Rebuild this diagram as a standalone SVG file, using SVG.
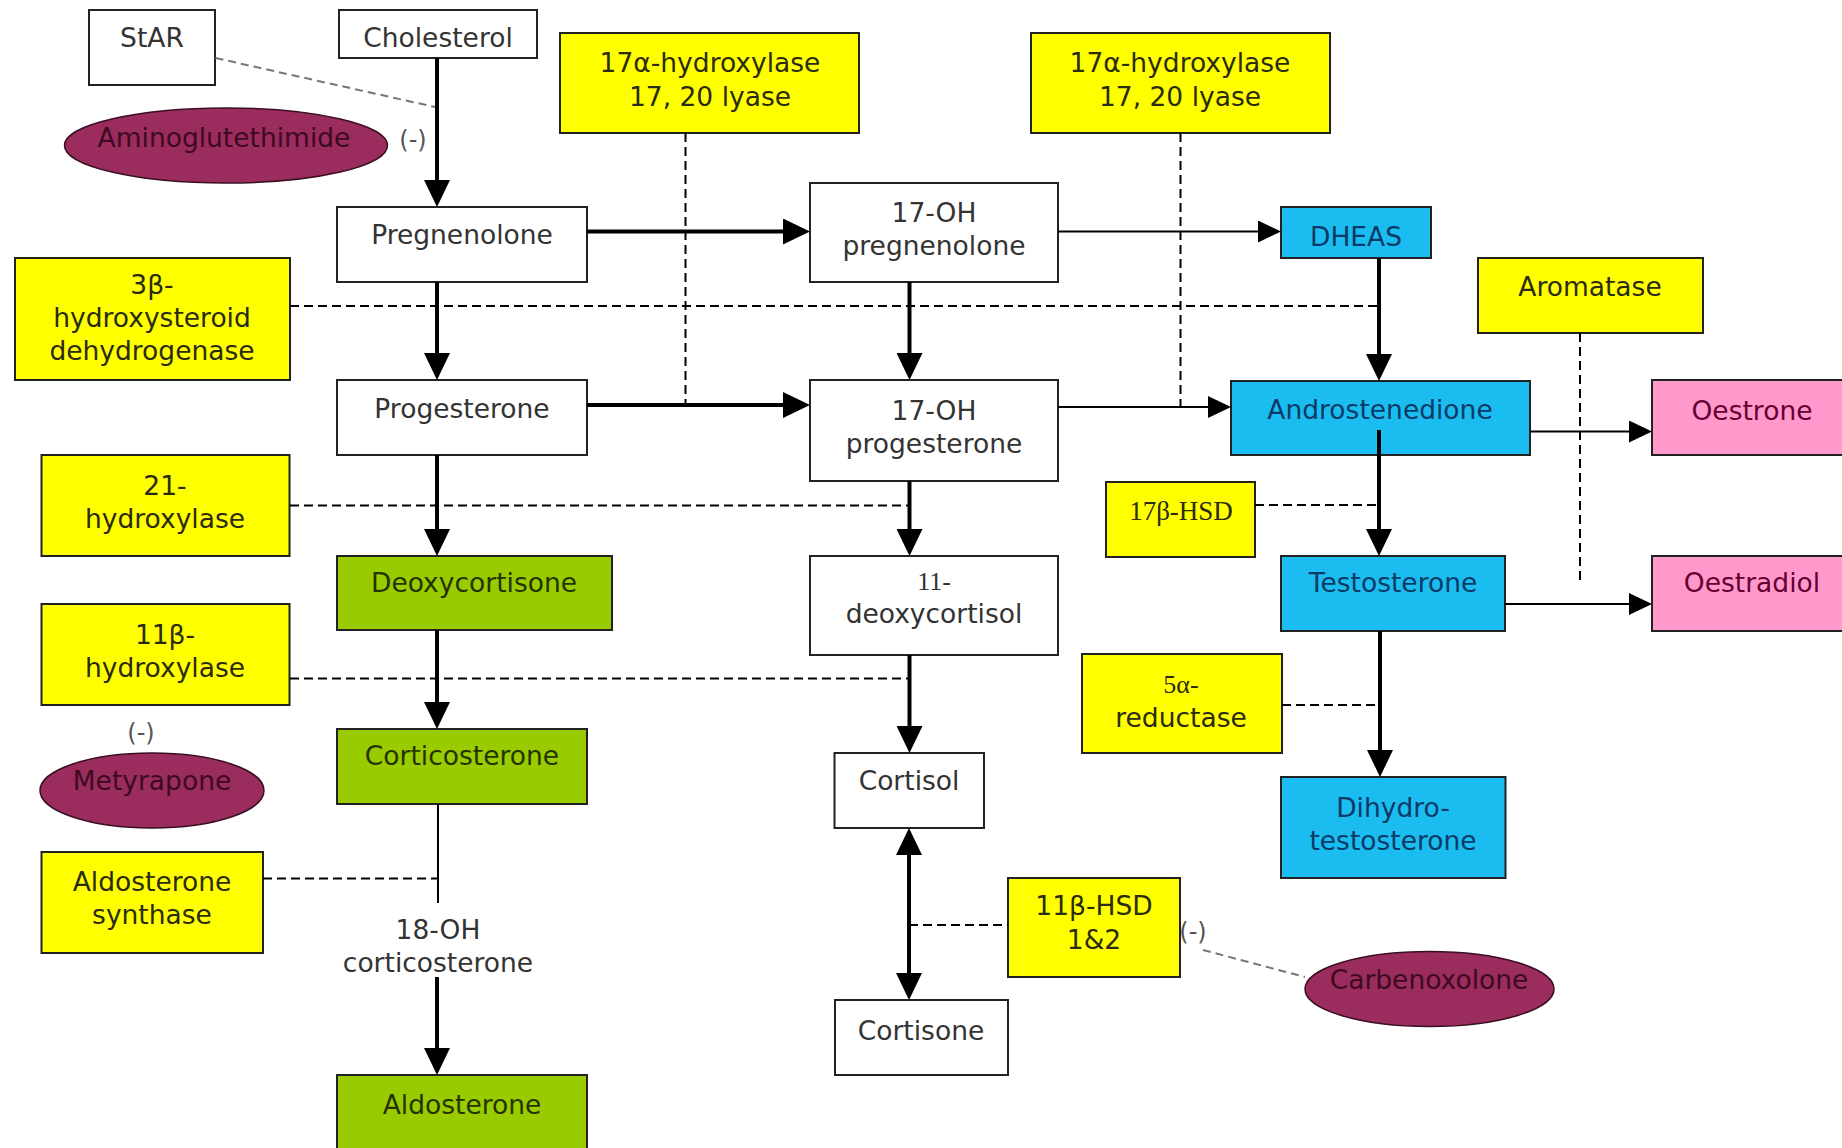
<svg xmlns="http://www.w3.org/2000/svg" width="1842" height="1148" viewBox="0 0 1842 1148">
<style>
.box{stroke:#222;stroke-width:2}
.w{fill:#fff}.y{fill:#ffff00}.g{fill:#99cc00}.b{fill:#1bbdf0}.p{fill:#ff99cc}
.el{fill:#9b2c5e;stroke:#3a0f22;stroke-width:1.5}
text{font-family:"DejaVu Sans",Verdana,sans-serif;font-size:26.5px;text-anchor:middle}
.tw{fill:#333}.ty{fill:#2b2b10}.tg{fill:#263300}.tb{fill:#0a3a66}.tp{fill:#660033}.te{fill:#3d0a20}
.serif{font-family:"Liberation Serif","Times New Roman",serif}
.neg{fill:#555;font-size:24px}
.thick{stroke:#000;stroke-width:4;fill:none;marker-end:url(#ah)}
.thin{stroke:#000;stroke-width:2;fill:none;marker-end:url(#ahs)}
.dash{stroke:#000;stroke-width:2;fill:none;stroke-dasharray:9 5}
.gdash{stroke:#777;stroke-width:2;fill:none;stroke-dasharray:8 5}
</style>
<defs>
<marker id="ah" markerUnits="userSpaceOnUse" markerWidth="28" markerHeight="26" refX="22" refY="13" orient="auto-start-reverse"><path d="M0,0 L27,13 L0,26 z" fill="#000"/></marker>
<marker id="ahs" markerUnits="userSpaceOnUse" markerWidth="24" markerHeight="22" refX="19" refY="11" orient="auto"><path d="M0,0 L23,11 L0,22 z" fill="#000"/></marker>
</defs>
<rect width="1842" height="1148" fill="#fff"/>

<g id="star"><rect class="box w" x="89" y="10" width="126" height="75"/><text class="tw" x="152" y="47">StAR</text></g>
<g id="cholesterol"><rect class="box w" x="339" y="10" width="198" height="48"/><text class="tw" x="438" y="47">Cholesterol</text></g>
<g id="aminoglutethimide"><ellipse class="el" cx="226" cy="145.5" rx="161.5" ry="37.5"/><text class="te" x="224" y="147">Aminoglutethimide</text></g>
<g id="neg1"><text class="neg" x="413" y="148">(-)</text></g>
<g id="enz17a1"><rect class="box y" x="560" y="33" width="299" height="100"/><text class="ty" x="710" y="72">17α-hydroxylase</text><text class="ty" x="710" y="106">17, 20 lyase</text></g>
<g id="enz17a2"><rect class="box y" x="1031" y="33" width="299" height="100"/><text class="ty" x="1180" y="72">17α-hydroxylase</text><text class="ty" x="1180" y="106">17, 20 lyase</text></g>
<g id="pregnenolone"><rect class="box w" x="337" y="207" width="250" height="75"/><text class="tw" x="462" y="244">Pregnenolone</text></g>
<g id="oh17preg"><rect class="box w" x="810" y="183" width="248" height="99"/><text class="tw" x="934" y="222">17-OH</text><text class="tw" x="934" y="255">pregnenolone</text></g>
<g id="dheas"><rect class="box b" x="1281" y="207" width="150" height="51"/><text class="tb" x="1356" y="246">DHEAS</text></g>
<g id="enz3b"><rect class="box y" x="15" y="258" width="275" height="122"/><text class="ty" x="152" y="294">3β-</text><text class="ty" x="152" y="327">hydroxysteroid</text><text class="ty" x="152" y="360">dehydrogenase</text></g>
<g id="aromatase"><rect class="box y" x="1478" y="258" width="225" height="75"/><text class="ty" x="1590" y="296">Aromatase</text></g>
<g id="progesterone"><rect class="box w" x="337" y="380" width="250" height="75"/><text class="tw" x="462" y="418">Progesterone</text></g>
<g id="oh17prog"><rect class="box w" x="810" y="380" width="248" height="101"/><text class="tw" x="934" y="420">17-OH</text><text class="tw" x="934" y="453">progesterone</text></g>
<g id="androstenedione"><rect class="box b" x="1231" y="381" width="299" height="74"/><text class="tb" x="1380" y="419">Androstenedione</text></g>
<g id="oestrone"><rect class="box p" x="1652" y="380" width="200" height="75"/><text class="tp" x="1752" y="420">Oestrone</text></g>
<g id="enz21"><rect class="box y" x="41.5" y="455" width="248" height="101"/><text class="ty" x="165" y="495">21-</text><text class="ty" x="165" y="528">hydroxylase</text></g>
<g id="enz17bhsd"><rect class="box y" x="1106" y="482" width="149" height="75"/><text class="ty serif" x="1181" y="520" style="font-size:27px">17β-HSD</text></g>
<g id="deoxycortisone"><rect class="box g" x="337" y="556" width="275" height="74"/><text class="tg" x="474" y="592">Deoxycortisone</text></g>
<g id="deoxycortisol"><rect class="box w" x="810" y="556" width="248" height="99"/><text class="tw serif" x="934" y="590" style="font-size:26px">11-</text><text class="tw" x="934" y="623">deoxycortisol</text></g>
<g id="testosterone"><rect class="box b" x="1281" y="556" width="224" height="75"/><text class="tb" x="1393" y="592">Testosterone</text></g>
<g id="oestradiol"><rect class="box p" x="1652" y="556" width="200" height="75"/><text class="tp" x="1752" y="592">Oestradiol</text></g>
<g id="enz11b"><rect class="box y" x="41.5" y="604" width="248" height="101"/><text class="ty" x="165" y="644">11β-</text><text class="ty" x="165" y="677">hydroxylase</text></g>
<g id="enz5a"><rect class="box y" x="1082" y="654" width="200" height="99"/><text class="ty serif" x="1181" y="693" style="font-size:26px">5α-</text><text class="ty" x="1181" y="727">reductase</text></g>
<g id="neg2"><text class="neg" x="141" y="741">(-)</text></g>
<g id="metyrapone"><ellipse class="el" cx="152" cy="790.5" rx="112" ry="37.5"/><text class="te" x="152" y="790">Metyrapone</text></g>
<g id="corticosterone"><rect class="box g" x="337" y="729" width="250" height="75"/><text class="tg" x="462" y="765">Corticosterone</text></g>
<g id="cortisol"><rect class="box w" x="834.5" y="753" width="149.5" height="75"/><text class="tw" x="909" y="790">Cortisol</text></g>
<g id="dht"><rect class="box b" x="1281" y="777" width="224.5" height="101"/><text class="tb" x="1393" y="817">Dihydro-</text><text class="tb" x="1393" y="850">testosterone</text></g>
<g id="aldosynthase"><rect class="box y" x="41.5" y="852" width="221.5" height="101"/><text class="ty" x="152" y="891">Aldosterone</text><text class="ty" x="152" y="924">synthase</text></g>
<g id="oh18cort"><text class="tw" x="438" y="939">18-OH</text><text class="tw" x="438" y="972">corticosterone</text></g>
<g id="enz11bhsd"><rect class="box y" x="1008" y="878" width="172" height="99"/><text class="ty" x="1094" y="915">11β-HSD</text><text class="ty" x="1094" y="949">1&amp;2</text></g>
<g id="neg3"><text class="neg" x="1193" y="940">(-)</text></g>
<g id="carbenoxolone"><ellipse class="el" cx="1429.5" cy="989" rx="124.5" ry="37.5"/><text class="te" x="1429" y="989">Carbenoxolone</text></g>
<g id="cortisone"><rect class="box w" x="835" y="1000" width="173" height="75"/><text class="tw" x="921" y="1040">Cortisone</text></g>
<g id="aldosterone"><rect class="box g" x="337" y="1075" width="250" height="90"/><text class="tg" x="462" y="1114">Aldosterone</text></g>

<g id="connectors">
<path class="gdash" d="M215.5,58 L435,107"/>
<path class="dash" d="M685.5,133 V405"/>
<path class="dash" d="M1180.5,133 V407"/>
<path class="dash" d="M290,306 H1379"/>
<path class="dash" d="M290,505.5 H909"/>
<path class="dash" d="M290,678.5 H909"/>
<path class="dash" d="M263,878.5 H438"/>
<path class="dash" d="M1255,505 H1379"/>
<path class="dash" d="M1282,705 H1379"/>
<path class="dash" d="M1580,333 V582"/>
<path class="dash" d="M909,925 H1008"/>
<path class="gdash" d="M1203,950 L1305,977"/>
<path class="thick" d="M437,58 V202"/>
<path class="thick" d="M587,231.5 H805"/>
<path class="thin" d="M1058,231.5 H1277"/>
<path class="thick" d="M437,282 V375"/>
<path class="thick" d="M909.5,282 V375"/>
<path class="thick" d="M1379,258 V376"/>
<path class="thick" d="M587,405 H805"/>
<path class="thin" d="M1058,407 H1227"/>
<path class="thin" d="M1530,431.5 H1648"/>
<path class="thick" d="M1379,430 V551"/>
<path class="thin" d="M1505,604 H1648"/>
<path class="thick" d="M437,455 V551"/>
<path class="thick" d="M909.5,481 V551"/>
<path class="thick" d="M437,630 V724"/>
<path class="thick" d="M909.5,655 V748"/>
<path class="thick" d="M1380,631 V772"/>
<path d="M438,804 V903" stroke="#000" stroke-width="2" fill="none"/>
<path class="thick" d="M437,977 V1070"/>
<path class="thick" d="M909,833 V995" marker-start="url(#ah)"/>
</g>
</svg>
